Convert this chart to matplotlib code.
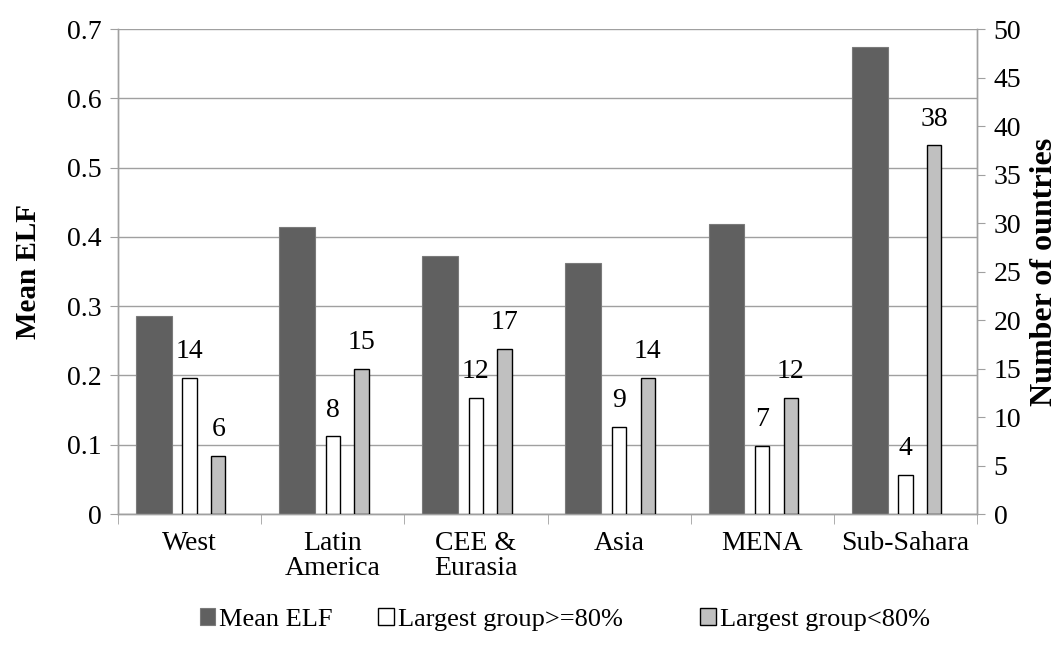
import matplotlib
matplotlib.use('Agg')
import matplotlib.pyplot as plt
import numpy as np

plt.rcParams['font.family'] = ['Liberation Serif', 'DejaVu Serif']

regions = ['West', 'Latin\nAmerica', 'CEE &\nEurasia', 'Asia', 'MENA', 'Sub-Sahara']
mean_elf = [0.286, 0.414, 0.373, 0.363, 0.419, 0.674]
big_group = [14, 8, 12, 9, 7, 4]      # largest group >= 80%
small_group = [6, 15, 17, 14, 12, 38]  # largest group < 80%
series_names = ['Mean ELF', 'Largest group>=80%', 'Largest group<80%']

x = np.arange(len(regions))
axis_grey = '#a0a0a0'

fig = plt.figure(figsize=(10.62, 6.49), dpi=100)
ax = fig.add_axes([0.1111, 0.208, 0.8089, 0.7473])
ax2 = ax.twinx()

b1 = ax.bar(x - 0.25, mean_elf, width=0.25, color='#606060', edgecolor='#7a7a7a', linewidth=0.8, zorder=3)
b2 = ax2.bar(x, big_group, width=0.1, color='white', edgecolor='black', linewidth=1.0, zorder=3)
b3 = ax2.bar(x + 0.2, small_group, width=0.1, color='#c0c0c0', edgecolor='black', linewidth=1.0, zorder=3)
ax2.bar_label(b2, padding=10, fontsize=20)
ax2.bar_label(b3, padding=10, fontsize=20)

ax.set_xlim(-0.5, len(regions) - 0.5)
ax.set_ylim(0, 0.7)
ax.set_yticks(np.arange(0, 0.71, 0.1))
ax.set_yticklabels(['0'] + ['%.1f' % v for v in np.arange(0.1, 0.71, 0.1)])
ax2.set_ylim(0, 50)
ax2.set_yticks(np.arange(0, 51, 5))

ax.yaxis.grid(True, color=axis_grey, linewidth=1.0, zorder=0)
ax.set_axisbelow(True)

ax.set_xticks(x)
ax.set_xticklabels(regions, fontsize=20, linespacing=1.0)
ax.set_xticks(np.arange(-0.5, len(regions)), minor=True)
ax.tick_params(axis='x', which='major', length=0, pad=12)
ax.tick_params(axis='x', which='minor', length=7, color=axis_grey, direction='out')
ax.tick_params(axis='y', length=6, color=axis_grey, labelsize=20, pad=6)
ax2.tick_params(axis='y', length=6, color=axis_grey, labelsize=20, pad=6)

for a in (ax, ax2):
    a.spines['top'].set_visible(False)
    for s in ('left', 'right', 'bottom'):
        a.spines[s].set_color(axis_grey)
        a.spines[s].set_linewidth(1.0)

ax.set_ylabel('Mean ELF', fontsize=21, fontweight='bold', labelpad=18)
ax2.set_ylabel('Number of ountries', fontsize=23, fontweight='bold', labelpad=6)

# legend entries sit at fixed spots along the bottom
for handle, name, xpos in zip([b1, b2, b3], series_names, [0.188, 0.356, 0.659]):
    fig.legend([handle], [name], loc='center left', bbox_to_anchor=(xpos, 0.045),
               frameon=False, fontsize=19, handlelength=0.6, handleheight=0.6,
               handletextpad=0.15, borderpad=0, borderaxespad=0)

fig.savefig('out.png', dpi=100)
